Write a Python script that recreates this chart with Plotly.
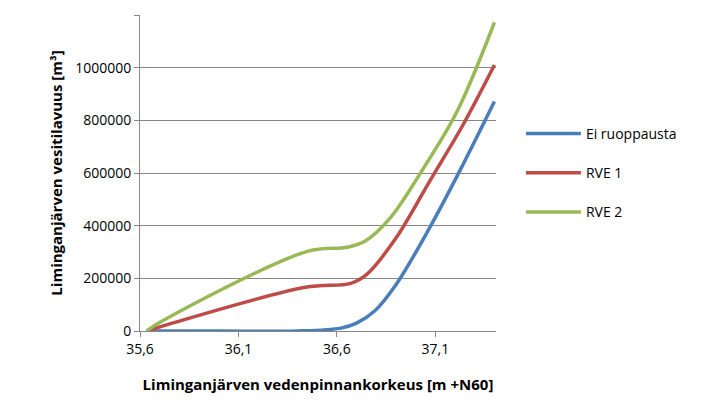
import plotly.graph_objects as go

x_blue = [35.634, 36.0, 36.4, 36.62, 36.70, 36.79, 36.90, 37.07, 37.24, 37.40]
y_blue = [0, 0, 0, 11000, 30000, 75000, 176000, 391000, 632000, 872000]
x_red = [35.634, 35.71, 36.44, 36.67, 36.75, 36.90, 37.07, 37.24, 37.40]
y_red = [0, 17700, 166000, 181000, 214000, 353000, 568000, 783000, 1011000]
x_green = [35.634, 35.71, 36.45, 36.65, 36.74, 36.87, 37.04, 37.21, 37.40]
y_green = [0, 36700, 302500, 318000, 340000, 429000, 619000, 834000, 1173000]
names = ["Ei ruoppausta", "RVE 1", "RVE 2"]
colors = ["#4a7ebb", "#be4b48", "#98b954"]
tick_vals = [35.6, 36.1, 36.6, 37.1]
tick_text = ["35,6", "36,1", "36,6", "37,1"]

fig = go.Figure()
for xs, ys, n, c in zip([x_blue, x_red, x_green], [y_blue, y_red, y_green], names, colors):
    fig.add_trace(go.Scatter(x=xs, y=ys, name=n, mode="lines", legendgroup=n,
                             line=dict(color=c, width=3.5, shape="spline", smoothing=1)))

fig.update_layout(
    width=701, height=407, paper_bgcolor="white", plot_bgcolor="white",
    margin=dict(l=132, r=213, t=7, b=84, autoexpand=False),
    font=dict(family="Open Sans", size=14, color="black"),
    legend=dict(x=1.07, y=0.5, yanchor="middle", xanchor="left",
                font=dict(size=14), tracegroupgap=18, itemwidth=55),
    xaxis=dict(range=[35.6, 37.408], tickvals=tick_vals, ticktext=tick_text,
               showgrid=False, showline=True, linecolor="#868686", ticks="outside",
               tickcolor="#868686", ticklen=5, zeroline=False, automargin=False,
               title=dict(text="<b>Liminganjärven vedenpinnankorkeus [m +N60]</b>",
                          font=dict(size=15), standoff=22)),
    yaxis=dict(range=[0, 1201000], dtick=200000, tickformat="d",
               showgrid=True, gridcolor="#868686", gridwidth=1, showline=True,
               linecolor="#868686", ticks="outside", tickcolor="#868686", ticklen=5,
               zeroline=False, automargin=False,
               title=dict(text="<b>Liminganjärven vesitilavuus [m³]</b>",
                          font=dict(size=15), standoff=8)),
)
fig.write_html("out.html")
